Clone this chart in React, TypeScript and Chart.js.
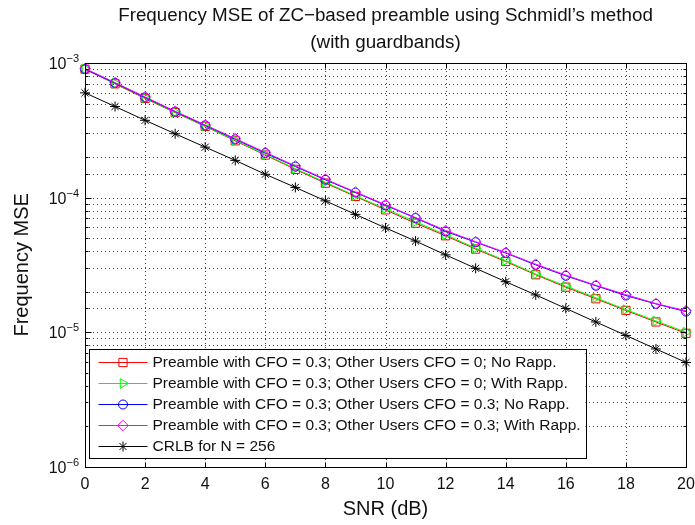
import React, { useEffect, useRef } from 'react';
import { Chart, registerables } from 'chart.js';
import { drawPoint } from 'chart.js/helpers';

Chart.register(...registerables);

const snrDb = [0, 1, 2, 3, 4, 5, 6, 7, 8, 9, 10, 11, 12, 13, 14, 15, 16, 17, 18, 19, 20];

const mseOther0NoRapp = [9.0e-4, 7.0e-4, 5.45e-4, 4.28e-4, 3.38e-4, 2.64e-4, 2.07e-4, 1.62e-4, 1.28e-4, 1.02e-4, 8.1e-5, 6.45e-5, 5.2e-5, 4.14e-5, 3.35e-5, 2.67e-5, 2.16e-5, 1.77e-5, 1.45e-5, 1.19e-5, 9.8e-6];
const mseOther0WithRapp = [9.05e-4, 7.05e-4, 5.5e-4, 4.3e-4, 3.4e-4, 2.66e-4, 2.09e-4, 1.64e-4, 1.3e-4, 1.03e-4, 8.25e-5, 6.6e-5, 5.3e-5, 4.2e-5, 3.4e-5, 2.7e-5, 2.2e-5, 1.8e-5, 1.47e-5, 1.21e-5, 1.0e-5];
const mseOther03NoRapp = [9.0e-4, 7.1e-4, 5.55e-4, 4.35e-4, 3.44e-4, 2.71e-4, 2.14e-4, 1.7e-4, 1.355e-4, 1.09e-4, 8.75e-5, 7.05e-5, 5.6e-5, 4.66e-5, 3.87e-5, 3.16e-5, 2.62e-5, 2.21e-5, 1.87e-5, 1.62e-5, 1.42e-5];
const mseOther03WithRapp = [9.1e-4, 7.15e-4, 5.6e-4, 4.38e-4, 3.47e-4, 2.74e-4, 2.17e-4, 1.72e-4, 1.37e-4, 1.1e-4, 8.85e-5, 7.1e-5, 5.7e-5, 4.7e-5, 3.9e-5, 3.2e-5, 2.65e-5, 2.23e-5, 1.9e-5, 1.63e-5, 1.44e-5];
const crlb256 = [6.0e-4, 4.75e-4, 3.75e-4, 2.98e-4, 2.37e-4, 1.89e-4, 1.49e-4, 1.19e-4, 9.45e-5, 7.5e-5, 5.95e-5, 4.75e-5, 3.75e-5, 2.98e-5, 2.37e-5, 1.89e-5, 1.5e-5, 1.19e-5, 9.45e-6, 7.5e-6, 5.95e-6];

const seriesLabels = [
  'Preamble with CFO = 0.3; Other Users CFO = 0; No Rapp.',
  'Preamble with CFO = 0.3; Other Users CFO = 0; With Rapp.',
  'Preamble with CFO = 0.3; Other Users CFO = 0.3; No Rapp.',
  'Preamble with CFO = 0.3; Other Users CFO = 0.3; With Rapp.',
  'CRLB for N = 256',
];

const titleLines = ['Frequency MSE of ZC\u2212based preamble using Schmidl\u2019s method', '(with guardbands)'];
const xTitle = 'SNR (dB)';
const yTitle = 'Frequency MSE';
const yDecadeExponents = [-3, -4, -5, -6];

const FONT = '"Liberation Sans", Arial, Helvetica, sans-serif';
const TEXT = '#111';

function isDecade(v: number) {
  const l = Math.log10(v);
  return Math.abs(l - Math.round(l)) < 1e-6;
}

const gridPlugin = {
  id: 'matlabGrid',
  beforeDatasetsDraw(chart: any) {
    const { ctx, chartArea: a } = chart;
    const xs = chart.scales.x;
    const ys = chart.scales.y;
    ctx.save();
    ctx.strokeStyle = 'rgba(0,0,0,0.75)';
    ctx.lineWidth = 1;
    ctx.setLineDash([1, 3]);
    xs.ticks.forEach((t: any) => {
      if (t.value <= xs.min || t.value >= xs.max) return;
      const x = Math.round(xs.getPixelForValue(t.value)) + 0.5;
      ctx.beginPath();
      ctx.moveTo(x, a.top);
      ctx.lineTo(x, a.bottom);
      ctx.stroke();
    });
    ys.ticks.forEach((t: any) => {
      if (t.value <= ys.min * 1.0001 || t.value >= ys.max * 0.9999) return;
      const y = Math.round(ys.getPixelForValue(t.value)) + 0.5;
      ctx.beginPath();
      ctx.moveTo(a.left, y);
      ctx.lineTo(a.right, y);
      ctx.stroke();
    });
    ctx.restore();
  },
  afterDatasetsDraw(chart: any) {
    const { ctx, chartArea: a } = chart;
    const xs = chart.scales.x;
    const ys = chart.scales.y;
    ctx.save();
    ctx.strokeStyle = '#000';
    ctx.lineWidth = 1;
    ctx.setLineDash([]);
    const L = Math.round(a.left) + 0.5;
    const R = Math.round(a.right) + 0.5;
    const T = Math.round(a.top) + 0.5;
    const B = Math.round(a.bottom) + 0.5;
    ctx.strokeRect(L, T, R - L, B - T);
    ctx.beginPath();
    xs.ticks.forEach((t: any) => {
      const x = Math.round(xs.getPixelForValue(t.value)) + 0.5;
      ctx.moveTo(x, B);
      ctx.lineTo(x, B - 5);
      ctx.moveTo(x, T);
      ctx.lineTo(x, T + 5);
    });
    ys.ticks.forEach((t: any) => {
      const y = Math.round(ys.getPixelForValue(t.value)) + 0.5;
      const len = isDecade(t.value) ? 6 : 3;
      ctx.moveTo(L, y);
      ctx.lineTo(L + len, y);
      ctx.moveTo(R, y);
      ctx.lineTo(R - len, y);
    });
    ctx.stroke();
    ctx.restore();
  },
  afterDraw(chart: any) {
    const { ctx, chartArea: a } = chart;
    const ys = chart.scales.y;
    ctx.save();
    // title
    ctx.fillStyle = TEXT;
    ctx.textAlign = 'center';
    ctx.textBaseline = 'alphabetic';
    ctx.font = `18.8px ${FONT}`;
    const cx = (a.left + a.right) / 2;
    ctx.fillText(titleLines[0], cx, 20.5);
    ctx.fillText(titleLines[1], cx, 47.5);

    // y decade labels with superscripts
    yDecadeExponents.forEach((e) => {
      const y = ys.getPixelForValue(Math.pow(10, e));
      const sup = '\u2212' + String(-e);
      ctx.font = `11px ${FONT}`;
      const sw = ctx.measureText(sup).width;
      ctx.textAlign = 'right';
      ctx.fillText(sup, a.left - 6, y - 1);
      ctx.font = `16px ${FONT}`;
      ctx.fillText('10', a.left - 6 - sw, y + 6);
    });

    // legend
    const bx = a.left + 3.5;
    const by = a.bottom - 118;
    const bw = 497;
    const bh = 109;
    ctx.fillStyle = '#fff';
    ctx.fillRect(bx, by, bw, bh);
    ctx.strokeStyle = '#000';
    ctx.lineWidth = 1;
    ctx.strokeRect(Math.round(bx) + 0.5, Math.round(by) + 0.5, bw, bh);
    chart.data.datasets.forEach((ds: any, i: number) => {
      const ry = by + 13.5 + i * 20.9;
      const x0 = bx + 10;
      const x1 = bx + 59;
      ctx.strokeStyle = ds.borderColor;
      ctx.lineWidth = 1;
      ctx.beginPath();
      ctx.moveTo(x0, Math.round(ry) + 0.5);
      ctx.lineTo(x1, Math.round(ry) + 0.5);
      ctx.stroke();
      ctx.fillStyle = 'rgba(0,0,0,0)';
      drawPoint(ctx, {
        pointStyle: ds.pointStyle,
        rotation: ds.pointRotation || 0,
        radius: ds.pointRadius,
        borderWidth: 1,
      } as any, (x0 + x1) / 2, Math.round(ry) + 0.5);
      ctx.fillStyle = TEXT;
      ctx.font = `15.5px ${FONT}`;
      ctx.textAlign = 'left';
      ctx.textBaseline = 'middle';
      ctx.fillText(seriesLabels[i], bx + 64, ry + 1);
    });
    ctx.restore();
  },
};

function makeDataset(label: string, values: number[], color: string, style: string, radius: number, order: number, rotation = 0) {
  return {
    label,
    data: snrDb.map((x, i) => ({ x, y: values[i] })),
    borderColor: color,
    backgroundColor: 'rgba(0,0,0,0)',
    borderWidth: 1,
    pointStyle: style,
    pointRadius: radius,
    pointHoverRadius: radius,
    pointBorderWidth: 1,
    pointBorderColor: color,
    pointBackgroundColor: 'rgba(0,0,0,0)',
    pointRotation: rotation,
    tension: 0,
    clip: false,
    order,
  };
}

export default function App() {
  const ref = useRef<HTMLCanvasElement>(null);
  useEffect(() => {
    document.body.style.margin = '0';
    const canvas = ref.current!;
    const chart = new Chart(canvas, {
      type: 'line',
      data: {
        datasets: [
          makeDataset(seriesLabels[0], mseOther0NoRapp, '#ff0000', 'rect', 5.8, 4),
          makeDataset(seriesLabels[1], mseOther0WithRapp, '#00ff00', 'triangle', 5.5, 3, 90),
          makeDataset(seriesLabels[2], mseOther03NoRapp, '#0000ff', 'circle', 4.5, 2),
          makeDataset(seriesLabels[3], mseOther03WithRapp, '#ff00ff', 'rectRot', 5.3, 1),
          makeDataset(seriesLabels[4], crlb256, '#000000', 'star', 5, 0),
        ] as any,
      },
      options: {
        animation: false,
        responsive: false,
        devicePixelRatio: 1,
        events: [],
        layout: { padding: { top: 63, right: 9, bottom: 0, left: 0 } },
        plugins: {
          legend: { display: false },
          title: { display: false },
          tooltip: { enabled: false },
        },
        scales: {
          x: {
            type: 'linear',
            min: 0,
            max: 20,
            grid: { display: false, drawTicks: false },
            border: { display: false },
            ticks: {
              stepSize: 2,
              padding: 8,
              color: TEXT,
              font: { family: FONT, size: 16 },
              maxRotation: 0,
            },
            title: {
              display: true,
              text: xTitle,
              color: TEXT,
              font: { family: FONT, size: 20 },
              padding: { top: 0, bottom: 4 },
            },
            afterFit(scale: any) {
              scale.height = 58.3;
              scale.paddingLeft = 0;
              scale.paddingRight = 0;
            },
          },
          y: {
            type: 'logarithmic',
            min: 1e-6,
            max: 1e-3,
            grid: { display: false, drawTicks: false },
            border: { display: false },
            ticks: { display: false, autoSkip: false },
            title: {
              display: true,
              text: yTitle,
              color: TEXT,
              font: { family: FONT, size: 20 },
              padding: { top: 10, bottom: 0 },
            },
            afterFit(scale: any) {
              scale.width = 85;
              scale.paddingTop = 0;
              scale.paddingBottom = 0;
            },
          },
        },
      } as any,
      plugins: [gridPlugin],
    });
    return () => chart.destroy();
  }, []);
  return <canvas ref={ref} width={695} height={525} style={{ display: 'block', width: 695, height: 525 }} />;
}
